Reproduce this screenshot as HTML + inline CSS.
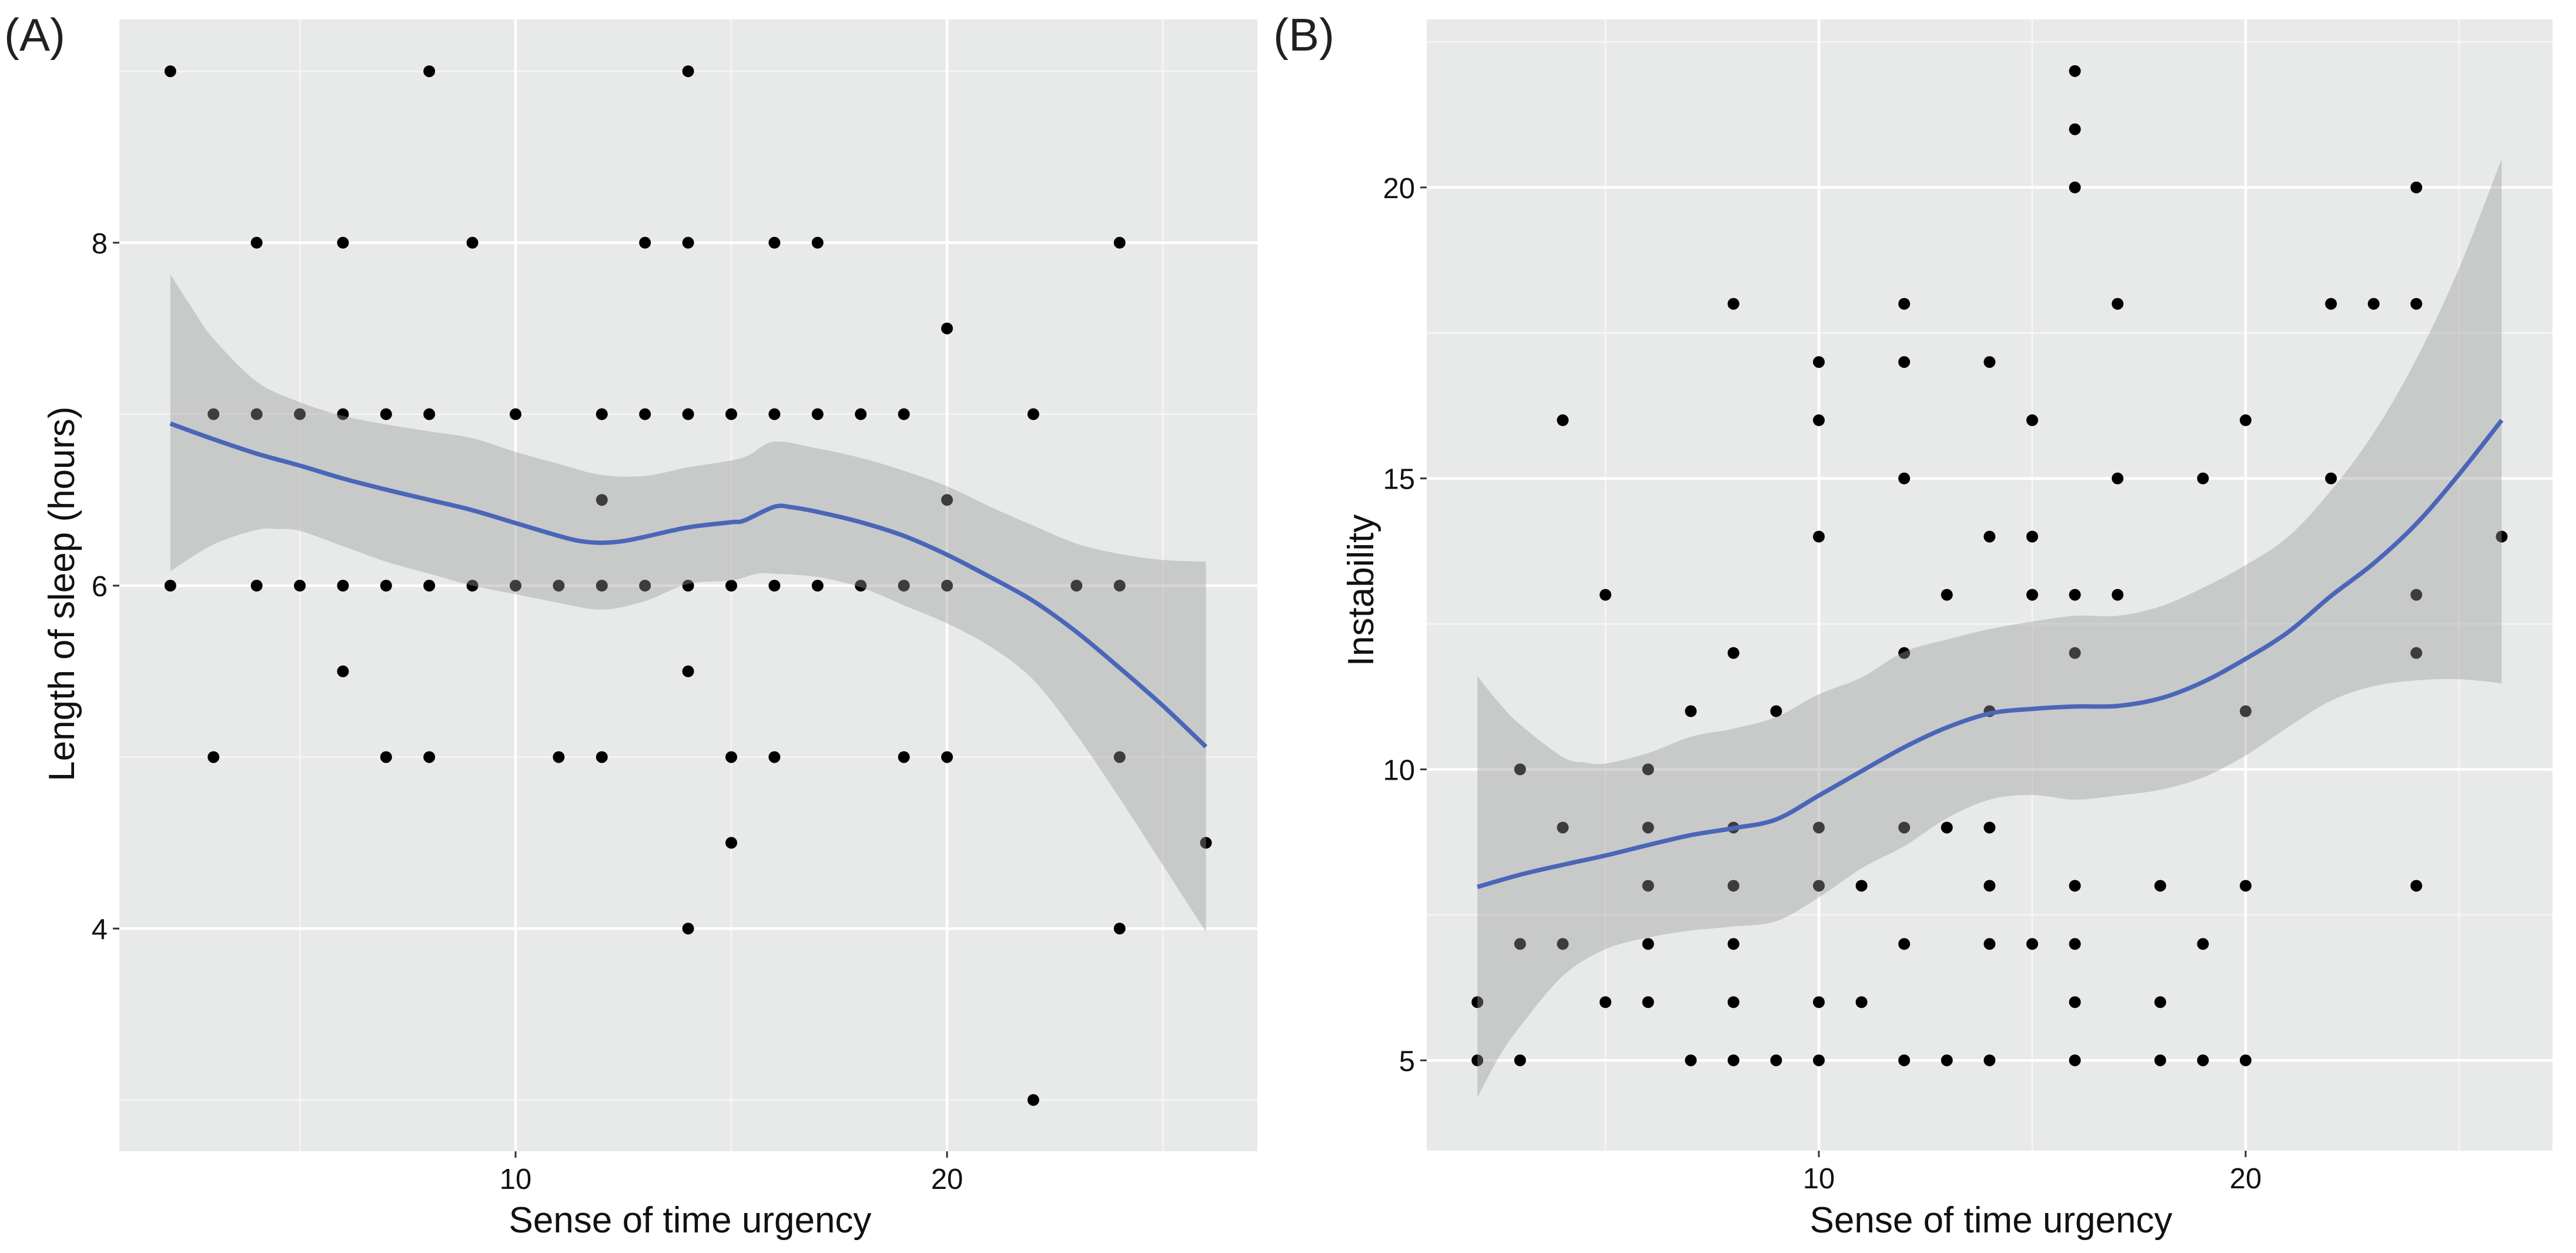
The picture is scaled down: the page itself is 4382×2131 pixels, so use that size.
<!DOCTYPE html>
<html lang="en">
<head>
<meta charset="utf-8">
<title>Sense of time urgency scatter plots</title>
<style>
html,body{margin:0;padding:0;background:#fff;}
svg{display:block;}
text{font-family:"Liberation Sans",Arial,sans-serif;}
</style>
</head>
<body>
<svg id="figure" xmlns="http://www.w3.org/2000/svg" width="4382" height="2131" viewBox="0 0 4382 2131">
  <rect x="0" y="0" width="4382" height="2131" fill="#ffffff"/>
  <text x="7" y="86" font-size="78" fill="#231f20">(A)</text>
  <text x="2166" y="86" font-size="78" fill="#231f20">(B)</text>
  <text x="1174" y="2096" font-size="62" text-anchor="middle" fill="#111">Sense of time urgency</text>
  <text x="3387" y="2096" font-size="62" text-anchor="middle" fill="#111">Sense of time urgency</text>
  <text transform="translate(126 1010) rotate(-90)" font-size="62" text-anchor="middle" fill="#111">Length of sleep (hours)</text>
  <text transform="translate(2336 1004) rotate(-90)" font-size="62" text-anchor="middle" fill="#111">Instability</text>
</svg>
<script>
// ---------- Panel A data ----------
const sleepX = [2,8,14, 4,6,9,13,14,16,17,24, 20,
  3,4,5,6,7,8,10,12,13,14,15,16,17,18,19,22, 12,20,
  2,4,5,6,7,8,9,10,11,12,13,14,15,16,17,18,19,20,23,24,
  6,14, 3,7,8,11,12,15,16,19,20,24, 15,26, 14,24, 22];
const sleepY = [9,9,9, 8,8,8,8,8,8,8,8, 7.5,
  7,7,7,7,7,7,7,7,7,7,7,7,7,7,7,7, 6.5,6.5,
  6,6,6,6,6,6,6,6,6,6,6,6,6,6,6,6,6,6,6,6,
  5.5,5.5, 5,5,5,5,5,5,5,5,5,5, 4.5,4.5, 4,4, 3];
const sleepLineX = [2,3,4,5,6,7,8,9,10,11,11.5,12,12.5,13,14,15,15.3,16,16.4,17,18,19,20,21,22,23,24,25,26];
const sleepLineY = [6.945,6.854,6.77,6.70,6.625,6.56,6.50,6.44,6.365,6.29,6.26,6.25,6.26,6.285,6.34,6.37,6.38,6.46,6.457,6.43,6.37,6.29,6.18,6.05,5.91,5.73,5.52,5.30,5.06];
const sleepUpperX = [2,2.5,3,4,5,6,7,8,9,10,11,12,13,14,15,15.4,16,17,18,19,20,21,22,23,24,25,26];
const sleepUpperY = [7.816,7.62,7.44,7.19,7.07,6.99,6.94,6.90,6.86,6.78,6.71,6.645,6.64,6.69,6.73,6.76,6.84,6.80,6.745,6.67,6.58,6.46,6.35,6.245,6.185,6.15,6.14];
const sleepLowerX = [2,3,4,4.5,5,6,7,8,9,10,11,12,13,14,15,15.6,16,17,18,19,20,21,22,23,24,25,26];
const sleepLowerY = [6.084,6.24,6.325,6.33,6.32,6.23,6.14,6.07,6.0,5.95,5.90,5.86,5.91,6.01,6.03,6.07,6.07,6.05,5.99,5.885,5.78,5.645,5.45,5.13,4.76,4.37,3.98];
const sleepYTicks = [4,6,8];
const sleepYMinor = [3,5,7,9];
const sleepXTicks = [10,20];
const sleepXMinor = [5,15,25];

// ---------- Panel B data ----------
const instX = [16,16,16,24, 8,12,17,22,23,24, 10,12,14, 4,10,15,20, 12,17,19,22, 10,14,15,26,
  5,13,15,16,17,24, 8,12,16,24, 7,9,14,20, 3,6, 4,6,8,10,12,13,14,
  6,8,10,11,14,16,18,20,24, 3,4,6,8,12,14,15,16,19, 2,5,6,8,10,11,16,18,
  2,3,7,8,9,10,12,13,14,16,18,19,20];
const instY = [22,21,20,20, 18,18,18,18,18,18, 17,17,17, 16,16,16,16, 15,15,15,15, 14,14,14,14,
  13,13,13,13,13,13, 12,12,12,12, 11,11,11,11, 10,10, 9,9,9,9,9,9,9,
  8,8,8,8,8,8,8,8,8, 7,7,7,7,7,7,7,7,7, 6,6,6,6,6,6,6,6,
  5,5,5,5,5,5,5,5,5,5,5,5,5];
const instLineX = [2,3,4,5,6,7,8,9,10,11,12,13,14,15,16,17,18,19,20,21,22,23,24,25,26];
const instLineY = [7.98,8.19,8.36,8.52,8.70,8.87,8.99,9.14,9.55,9.97,10.38,10.72,10.96,11.04,11.08,11.09,11.22,11.5,11.9,12.36,12.98,13.54,14.22,15.07,16.0];
const instUpperX = [2,2.5,3,4,4.5,5,6,7,8,9,10,11,12,13,14,15,16,17,18,19,20,21,22,23,24,25,26];
const instUpperY = [11.6,11.15,10.77,10.21,10.12,10.1,10.28,10.56,10.70,10.9,11.29,11.58,12.02,12.23,12.41,12.54,12.64,12.64,12.8,13.12,13.51,14.0,14.79,15.78,17.05,18.61,20.49];
const instLowerX = [2,2.5,3,4,5,6,7,8,9,10,11,12,13,14,15,16,17,18,19,20,21,22,23,24,25,26];
const instLowerY = [4.36,5.05,5.58,6.45,6.91,7.11,7.23,7.30,7.39,7.8,8.3,8.68,9.16,9.48,9.56,9.48,9.55,9.65,9.86,10.24,10.73,11.18,11.43,11.53,11.55,11.48];
const instYTicks = [5,10,15,20];
const instYMinor = [7.5,12.5,17.5,22.5];
const instXTicks = [10,20];
const instXMinor = [5,15,25];

// ---------- Drawing ----------
const NS = 'http://www.w3.org/2000/svg';
const figure = document.getElementById('figure');

function make(tag, attrs, parent) {
  const el = document.createElementNS(NS, tag);
  for (const k in attrs) el.setAttribute(k, attrs[k]);
  parent.appendChild(el);
  return el;
}

// Smooth (Catmull-Rom) curve segments through the data vertices.
function curveSegments(pts) {
  let d = '';
  for (let i = 0; i < pts.length - 1; i++) {
    const p0 = pts[Math.max(i - 1, 0)];
    const p1 = pts[i];
    const p2 = pts[i + 1];
    const p3 = pts[Math.min(i + 2, pts.length - 1)];
    const c1x = p1[0] + (p2[0] - p0[0]) / 6;
    const c1y = p1[1] + (p2[1] - p0[1]) / 6;
    const c2x = p2[0] - (p3[0] - p1[0]) / 6;
    const c2y = p2[1] - (p3[1] - p1[1]) / 6;
    d += ' C' + c1x.toFixed(1) + ' ' + c1y.toFixed(1) + ' ' + c2x.toFixed(1) + ' ' + c2y.toFixed(1) + ' ' + p2[0].toFixed(1) + ' ' + p2[1].toFixed(1);
  }
  return d;
}

function toPoints(xs, ys, sx, sy) {
  return xs.map((v, i) => [sx(v), sy(ys[i])]);
}

function linePath(xs, ys, sx, sy) {
  const pts = toPoints(xs, ys, sx, sy);
  return 'M' + pts[0][0].toFixed(1) + ' ' + pts[0][1].toFixed(1) + curveSegments(pts);
}

function ribbonPath(ux, uy, lx, ly, sx, sy) {
  const top = linePath(ux, uy, sx, sy);
  const low = toPoints(lx, ly, sx, sy).reverse();
  return top + ' L' + low[0][0].toFixed(1) + ' ' + low[0][1].toFixed(1) + curveSegments(low) + ' Z';
}

function drawPanel(cfg) {
  const group = make('g', {}, figure);
  
  

  const bg = make('rect', {x: cfg.left, y: cfg.top, width: cfg.right - cfg.left, height: cfg.bottom - cfg.top, fill: '#e8e9e9'}, group);
  
  

  const sx = cfg.sx, sy = cfg.sy;

  cfg.xMinor.forEach(v => {
    const g = make('line', {x1: sx(v), x2: sx(v), y1: cfg.top, y2: cfg.bottom, stroke: '#f6f6f6', 'stroke-width': 2.5}, group);
    
    
  });
  cfg.yMinor.forEach(v => {
    const g = make('line', {x1: cfg.left, x2: cfg.right, y1: sy(v), y2: sy(v), stroke: '#f6f6f6', 'stroke-width': 2.5}, group);
    
    
  });
  cfg.xTicks.forEach(v => {
    const g = make('line', {x1: sx(v), x2: sx(v), y1: cfg.top, y2: cfg.bottom, stroke: '#ffffff', 'stroke-width': 4.5}, group);
    
    
    const t = make('line', {x1: sx(v), x2: sx(v), y1: cfg.bottom, y2: cfg.bottom + 11, stroke: '#333333', 'stroke-width': 3}, group);
    
    
    const l = make('text', {x: sx(v), y: cfg.bottom + 64, 'font-size': 49, 'text-anchor': 'middle', fill: '#111'}, group);
    
    
    l.textContent = String(v);
  });
  cfg.yTicks.forEach(v => {
    const g = make('line', {x1: cfg.left, x2: cfg.right, y1: sy(v), y2: sy(v), stroke: '#ffffff', 'stroke-width': 4.5}, group);
    
    
    const t = make('line', {x1: cfg.left - 11, x2: cfg.left, y1: sy(v), y2: sy(v), stroke: '#333333', 'stroke-width': 3}, group);
    
    
    const l = make('text', {x: cfg.left - 20, y: sy(v) + 18, 'font-size': 49, 'text-anchor': 'end', fill: '#111'}, group);
    
    
    l.textContent = String(v);
  });

  cfg.px.forEach((v, i) => {
    const c = make('circle', {cx: sx(v), cy: sy(cfg.py[i]), r: 10, fill: '#000000'}, group);
    
    
  });

  const band = make('path', {d: ribbonPath(cfg.ux, cfg.uy, cfg.lx, cfg.ly, sx, sy), fill: '#999999', 'fill-opacity': 0.4, stroke: 'none'}, group);
  
  

  const smooth = make('path', {d: linePath(cfg.mx, cfg.my, sx, sy), fill: 'none', stroke: '#4a66b8', 'stroke-width': 7.5, 'stroke-linejoin': 'round'}, group);
  
  
}

function sleepScaleX(v) { return 877 + (v - 10) * 73.4; }
function sleepScaleY(v) { return 996 - (v - 6) * 291.6; }
function instScaleX(v) { return 3094 + (v - 10) * 72.6; }
function instScaleY(v) { return 1308.5 - (v - 10) * 98.97; }

drawPanel({
  name: 'sleep', left: 203, right: 2139, top: 33, bottom: 1958,
  sx: sleepScaleX, sy: sleepScaleY,
  xTicks: sleepXTicks, xMinor: sleepXMinor, yTicks: sleepYTicks, yMinor: sleepYMinor,
  px: sleepX, py: sleepY, ux: sleepUpperX, uy: sleepUpperY, lx: sleepLowerX, ly: sleepLowerY,
  mx: sleepLineX, my: sleepLineY
});
drawPanel({
  name: 'instability', left: 2427, right: 4342, top: 33, bottom: 1957,
  sx: instScaleX, sy: instScaleY,
  xTicks: instXTicks, xMinor: instXMinor, yTicks: instYTicks, yMinor: instYMinor,
  px: instX, py: instY, ux: instUpperX, uy: instUpperY, lx: instLowerX, ly: instLowerY,
  mx: instLineX, my: instLineY
});
</script>
</body>
</html>
